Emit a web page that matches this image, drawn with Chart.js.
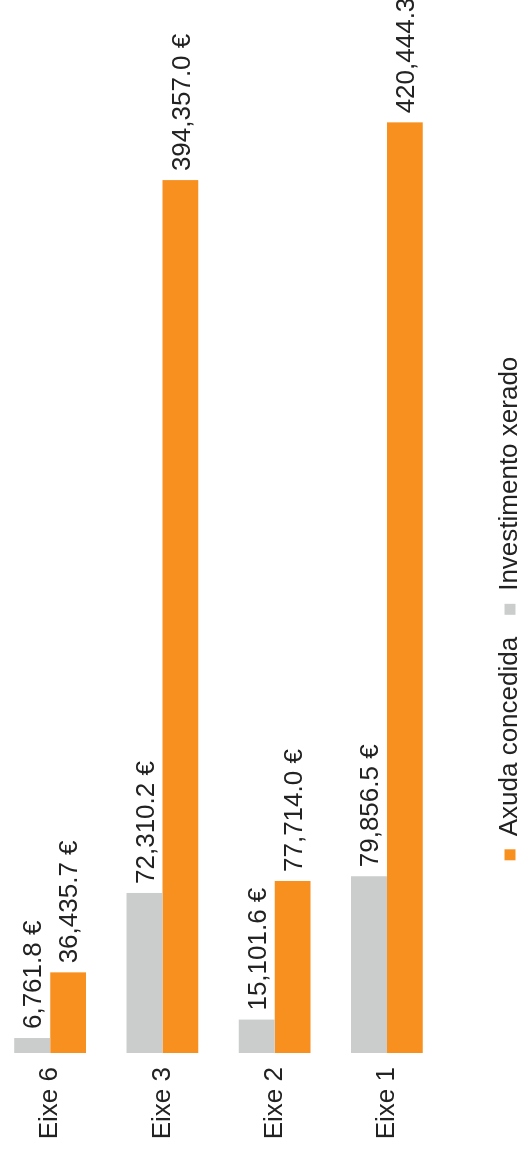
<!DOCTYPE html>
<html>
<head>
<meta charset="utf-8">
<script src="https://cdn.jsdelivr.net/npm/chart.js@4/dist/chart.umd.min.js"></script>
<style>
  html, body { margin: 0; padding: 0; background: #fff; overflow: hidden; }
  body { width: 521px; height: 1162px; position: relative; }
  /* the chart is drawn lying on its side, like the reference */
  #wrap {
    position: absolute; left: 0; top: 0;
    width: 1162px; height: 539px;
    transform-origin: 0 0;
    transform: translate(-6px, 1162px) rotate(-90deg);
  }
</style>
</head>
<body>
<div id="wrap"><canvas id="ejesChart" width="1162" height="539"></canvas></div>
<script>
/* ---------- Investimento e axuda por eixe ---------- */
var ejes = ["Eixe 6", "Eixe 3", "Eixe 2", "Eixe 1"];
var investimento = [6761.8, 72310.2, 15101.6, 79856.5];
var axuda = [36435.7, 394357.0, 77714.0, 420444.3];

var grayColor = "#cbcdcd";
var orangeColor = "#f7901e";
var fontFamily = "'Liberation Sans', Arial, sans-serif";

function euro(v) {
  return v.toLocaleString("en-US", {minimumFractionDigits: 1, maximumFractionDigits: 1}) + " €";
}

// draw the value at the end of each bar
var barLabels = {
  id: "barLabels",
  afterDatasetsDraw: function(chart) {
    var ctx = chart.ctx;
    ctx.save();
    ctx.font = "26px " + fontFamily;
    ctx.fillStyle = "#222";
    ctx.textAlign = "left";
    ctx.textBaseline = "middle";
    chart.data.datasets.forEach(function(ds, i) {
      chart.getDatasetMeta(i).data.forEach(function(bar, j) {
        ctx.fillText(euro(ds.data[j]), bar.x + 9, bar.y + 2);
      });
    });
    ctx.restore();
  }
};

new Chart("ejesChart", {
  type: "bar",
  data: {
    labels: ejes,
    datasets: [
      {label: "Investimento xerado", data: investimento, backgroundColor: grayColor},
      {label: "Axuda concedida", data: axuda, backgroundColor: orangeColor}
    ]
  },
  options: {
    indexAxis: "y",
    responsive: false,
    animation: false,
    devicePixelRatio: 1,
    categoryPercentage: 0.64,
    barPercentage: 1.0,
    layout: {padding: {left: 13, right: 68, top: 0, bottom: 0}},
    scales: {
      x: {
        min: 0,
        max: 445000,
        grid: {display: false, drawTicks: false},
        border: {display: false},
        ticks: {display: false},
        afterFit: function(axis) { axis.height = 32; }
      },
      y: {
        grid: {display: false, drawTicks: false},
        border: {display: false},
        ticks: {
          padding: 14,
          color: "#222",
          font: {family: fontFamily, size: 26}
        },
        afterFit: function(axis) {
          axis.width = 96;
          axis.paddingTop = 0;
          axis.paddingBottom = 0;
        }
      }
    },
    plugins: {
      legend: {
        position: "bottom",
        reverse: true,
        labels: {
          boxWidth: 11,
          boxHeight: 11,
          padding: 22,
          color: "#222",
          font: {family: fontFamily, size: 26}
        }
      },
      tooltip: {enabled: false}
    }
  },
  plugins: [barLabels]
});
</script>
</body>
</html>
